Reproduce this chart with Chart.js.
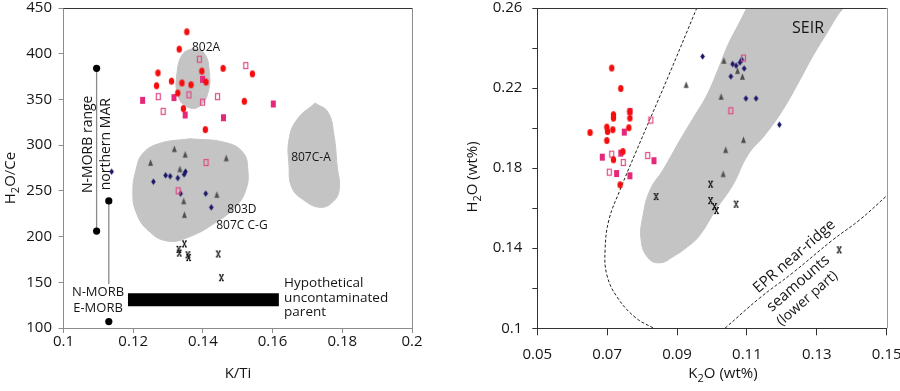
<!DOCTYPE html>
<html>
<head>
<meta charset="utf-8">
<script src="https://cdn.jsdelivr.net/npm/chart.js@4.4.1/dist/chart.umd.min.js"></script>
<style>
  html, body { margin: 0; padding: 0; background: #fff; }
  #wrap { position: relative; width: 900px; height: 391px; }
  canvas { position: absolute; top: 0; }
  #left { left: 0; }
  #right { left: 450px; }
</style>
</head>
<body>
<div id="wrap">
  <canvas id="left" width="450" height="391"></canvas>
  <canvas id="right" width="450" height="391"></canvas>
</div>
<script>
// ---- left panel: K/Ti vs H2O/Ce ----
const leftXTicks = [0.1, 0.12, 0.14, 0.16, 0.18, 0.2];
const leftXLabels = ['0.1', '0.12', '0.14', '0.16', '0.18', '0.2'];
const leftYTicks = [100, 150, 200, 250, 300, 350, 400, 450];
const leftYLabels = ['100', '150', '200', '250', '300', '350', '400', '450'];

const leftRedX = [0.1354, 0.1332, 0.1271, 0.1267, 0.1310, 0.1340, 0.1366, 0.1397, 0.1409, 0.1328, 0.1344, 0.1458, 0.1542, 0.1519, 0.1407];
const leftRedY = [424, 405, 379, 365, 370, 368, 366, 381, 369, 357, 340, 384, 378, 348, 317];
const leftPinkX = [0.1227, 0.1317, 0.1399, 0.1349, 0.1459, 0.1602];
const leftPinkY = [349, 352, 372, 333, 330, 345];
const leftOpenX = [0.1390, 0.1523, 0.1272, 0.1360, 0.1286, 0.1399, 0.1442, 0.1409, 0.1329];
const leftOpenY = [394, 387, 353, 355, 337, 347, 353, 281, 250];
const leftNavyX = [0.1138, 0.1258, 0.1293, 0.1306, 0.1328, 0.1346, 0.1350, 0.1336, 0.1408, 0.1424];
const leftNavyY = [271, 260, 267, 266, 264, 268, 271, 247, 247, 232];
const leftTriX = [0.1318, 0.1349, 0.1250, 0.1334, 0.1467, 0.1440, 0.1345, 0.1347];
const leftTriY = [296, 290, 281, 274, 286, 246, 239, 224];
const leftCrossX = [0.1347, 0.1331, 0.1332, 0.1357, 0.1359, 0.1444, 0.1453];
const leftCrossY = [192, 186, 182, 180, 177, 181, 155];

// N-MORB range (northern MAR), N-MORB / E-MORB, hypothetical parent
const nmorbRangeX = [0.1095, 0.1095];
const nmorbRangeY = [384, 206];
const morbLineX = [0.1130, 0.1130];
const morbLineY = [239, 148];
const emorbX = [0.1130];
const emorbY = [107];
const parentX = [0.1185, 0.1618];
const parentY = [131, 131];

// field outlines (closed)
const f802aX = [0.1372, 0.1403, 0.1418, 0.1415, 0.1392, 0.1360, 0.1329, 0.1326, 0.1343, 0.1372];
const f802aY = [406, 401, 382, 358, 343, 341, 353, 380, 400, 406];
const f803dX = [0.1363, 0.1463, 0.1515, 0.1529, 0.1524, 0.1495, 0.1435, 0.1363, 0.1300, 0.1242, 0.1208, 0.1199, 0.1208, 0.1228, 0.1277, 0.1363];
const f803dY = [307, 303, 292, 273, 252, 233, 215, 200, 195, 207, 227, 249, 273, 291, 302, 307];
const f807aX = [0.1722, 0.1759, 0.1776, 0.1785, 0.1791, 0.1770, 0.1736, 0.1693, 0.1656, 0.1647, 0.1647, 0.1670, 0.1722];
const f807aY = [346, 336, 311, 278, 251, 237, 232, 239, 253, 278, 306, 328, 346];

// ---- right panel: K2O vs H2O ----
const rightXTicks = [0.05, 0.07, 0.09, 0.11, 0.13, 0.15];
const rightXLabels = ['0.05', '0.07', '0.09', '0.11', '0.13', '0.15'];
const rightYTicks = [0.1, 0.12, 0.14, 0.16, 0.18, 0.2, 0.22, 0.24, 0.26];
const rightYLabels = ['0.1', '', '0.14', '', '0.18', '', '0.22', '', '0.26'];

const rightRedX = [0.0713, 0.0739, 0.0718, 0.0718, 0.0765, 0.0765, 0.0699, 0.0701, 0.0716, 0.0762, 0.0651, 0.0699, 0.0718, 0.0745, 0.0737];
const rightRedY = [0.230, 0.2198, 0.2067, 0.2050, 0.2083, 0.2050, 0.2005, 0.1983, 0.1992, 0.2002, 0.1978, 0.1938, 0.1842, 0.1883, 0.1717];
const rightPinkX = [0.0749, 0.0686, 0.0739, 0.0727, 0.0765, 0.0834];
const rightPinkY = [0.1980, 0.1855, 0.1875, 0.1773, 0.1762, 0.1837];
const rightOpenX = [0.0825, 0.0713, 0.0746, 0.0706, 0.0816, 0.0765, 0.1090, 0.1054];
const rightOpenY = [0.2040, 0.1870, 0.1828, 0.1780, 0.1863, 0.2083, 0.2350, 0.2087];
const rightNavyX = [0.0973, 0.1059, 0.1069, 0.1080, 0.1085, 0.1092, 0.1054, 0.1097, 0.1126, 0.1193];
const rightNavyY = [0.2358, 0.2320, 0.2312, 0.2328, 0.2342, 0.2298, 0.2258, 0.2148, 0.2148, 0.2017];
const rightTriX = [0.1034, 0.1073, 0.1087, 0.1026, 0.1090, 0.1039, 0.1032, 0.0926];
const rightTriY = [0.2338, 0.2287, 0.2258, 0.2158, 0.1942, 0.1892, 0.1772, 0.2217];
const rightCrossX = [0.0996, 0.0840, 0.0996, 0.1007, 0.1013, 0.1069, 0.1364];
const rightCrossY = [0.1720, 0.1658, 0.1638, 0.1608, 0.1588, 0.1620, 0.1392];

// SEIR field and dashed EPR envelopes
const seirX = [0.1109, 0.1389, 0.1361, 0.1326, 0.1286, 0.1252, 0.1203, 0.1152, 0.1103, 0.1060, 0.1011, 0.0966, 0.0937, 0.0888, 0.0851, 0.0817, 0.0797, 0.0803, 0.0823, 0.0860, 0.0909, 0.0952, 0.0986, 0.1017, 0.1046, 0.1080, 0.1109];
const seirY = [0.2635, 0.2640, 0.2567, 0.2467, 0.2352, 0.2242, 0.2092, 0.1967, 0.1867, 0.1717, 0.1592, 0.1467, 0.1417, 0.1357, 0.1327, 0.1352, 0.1442, 0.1567, 0.1692, 0.1792, 0.1942, 0.2067, 0.2167, 0.2292, 0.2417, 0.2532, 0.2635];
const eprLeftX = [0.0957, 0.0871, 0.0785, 0.0737, 0.0705, 0.0694, 0.0699, 0.0728, 0.0782, 0.0837];
const eprLeftY = [0.2602, 0.2242, 0.1892, 0.1692, 0.1542, 0.1392, 0.1267, 0.1157, 0.1052, 0.0997];
const eprRightX = [0.1037, 0.1137, 0.1231, 0.1346, 0.1423, 0.1500];
const eprRightY = [0.1000, 0.1152, 0.1277, 0.1442, 0.1542, 0.1662];

const FONT = '"Open Sans", "DejaVu Sans", sans-serif';
const zip = (xs, ys) => xs.map((x, i) => ({ x: x, y: ys[i] }));

// small marker images
function marker(draw) {
  const c = document.createElement('canvas');
  c.width = 7; c.height = 9;
  draw(c.getContext('2d'));
  return c;
}
const mkRed = marker(g => { g.fillStyle = '#f50d0d'; g.beginPath(); g.ellipse(3.5, 4.5, 2.7, 3.6, 0, 0, Math.PI * 2); g.fill(); });
const mkPink = marker(g => { g.fillStyle = '#e6287a'; g.fillRect(1, 1, 5, 7); });
const mkOpen = marker(g => { g.strokeStyle = '#e04b85'; g.lineWidth = 1.2; g.strokeRect(1.5, 1.5, 4, 6); });
const mkNavy = marker(g => {
  g.fillStyle = '#1b1868'; g.beginPath();
  g.moveTo(3.5, 1.2); g.lineTo(5.8, 4.5); g.lineTo(3.5, 7.8); g.lineTo(1.2, 4.5); g.closePath(); g.fill();
});
const mkTri = marker(g => {
  g.fillStyle = '#4e4e4e'; g.beginPath();
  g.moveTo(3.5, 1.2); g.lineTo(6, 7.8); g.lineTo(1, 7.8); g.closePath(); g.fill();
});
const mkCross = marker(g => {
  g.strokeStyle = '#111'; g.lineWidth = 1.1; g.beginPath();
  g.moveTo(1.8, 1.5); g.lineTo(5.2, 7.5); g.moveTo(5.2, 1.5); g.lineTo(1.8, 7.5);
  g.moveTo(1, 1.5); g.lineTo(3, 1.5); g.moveTo(4, 1.5); g.lineTo(6, 1.5);
  g.moveTo(1, 7.5); g.lineTo(3, 7.5); g.moveTo(4, 7.5); g.lineTo(6, 7.5);
  g.stroke();
});

function pts(xs, ys, img) {
  return { type: 'scatter', data: zip(xs, ys), pointStyle: img, pointRadius: 4, order: 0 };
}
function field(xs, ys) {
  return {
    type: 'line', data: zip(xs, ys), fill: 'shape', tension: 0.45,
    backgroundColor: '#c4c4c4', borderColor: '#c4c4c4', borderWidth: 1, pointRadius: 0, order: 10
  };
}
function dashed(xs, ys) {
  return {
    type: 'line', data: zip(xs, ys), fill: false, tension: 0.4, borderDash: [3, 2],
    borderColor: '#222', borderWidth: 1, pointRadius: 0, order: 5
  };
}

// text helper: parts = [[text, isSub], ...]
function drawRich(ctx, parts, x, y, size, align) {
  const main = size + 'px ' + FONT;
  const sub = Math.round(size * 0.7) + 'px ' + FONT;
  let w = 0;
  parts.forEach(p => { ctx.font = p[1] ? sub : main; w += ctx.measureText(p[0]).width; });
  let cx = align === 'center' ? x - w / 2 : (align === 'right' ? x - w : x);
  ctx.textAlign = 'left';
  parts.forEach(p => {
    ctx.font = p[1] ? sub : main;
    ctx.fillText(p[0], cx, p[1] ? y + size * 0.32 : y);
    cx += ctx.measureText(p[0]).width;
  });
}

function overlay(frame, texts) {
  return {
    id: 'overlay',
    afterDraw(chart) {
      const { ctx, chartArea: a, scales } = chart;
      ctx.save();
      ctx.lineWidth = 1;
      ctx.strokeStyle = frame.top;
      ctx.beginPath(); ctx.moveTo(a.left, Math.round(a.top) + 0.5); ctx.lineTo(a.right, Math.round(a.top) + 0.5); ctx.stroke();
      ctx.strokeStyle = frame.right;
      ctx.beginPath(); ctx.moveTo(Math.round(a.right) + 0.5, a.top); ctx.lineTo(Math.round(a.right) + 0.5, a.bottom); ctx.stroke();
      ctx.fillStyle = '#151515';
      ctx.textBaseline = 'middle';
      texts.forEach(t => {
        const px = t.pix ? t.x : scales.x.getPixelForValue(t.x);
        const py = t.pix ? t.y : scales.y.getPixelForValue(t.y);
        ctx.save();
        ctx.translate(px, py);
        if (t.rot) ctx.rotate(t.rot * Math.PI / 180);
        drawRich(ctx, t.parts, 0, 0, t.size, t.align || 'center');
        ctx.restore();
      });
      ctx.restore();
    }
  };
}

function axis(min, max, ticks, labels, o) {
  return {
    type: 'linear', min: min, max: max,
    afterBuildTicks: s => { s.ticks = ticks.map(v => ({ value: v })); },
    afterFit: s => {
      if (o.width) { s.width = o.width; s.paddingTop = 0; s.paddingBottom = 0; }
      if (o.height) { s.height = o.height; s.paddingLeft = 0; s.paddingRight = 0; }
    },
    ticks: {
      callback: (v, i) => labels[i], autoSkip: false, maxRotation: 0, minRotation: 0,
      padding: o.pad, color: '#151515', font: { family: FONT, size: 15 }
    },
    grid: { drawOnChartArea: false, drawTicks: true, tickLength: o.tl, color: o.color, lineWidth: 1 },
    border: { display: true, color: o.color, width: 1 }
  };
}

const common = {
  responsive: false, animation: false, events: [], devicePixelRatio: 1,
  plugins: { legend: { display: false }, tooltip: { enabled: false } }
};

// left chart
new Chart(document.getElementById('left'), {
  type: 'scatter',
  data: {
    datasets: [
      pts(leftRedX, leftRedY, mkRed),
      pts(leftPinkX, leftPinkY, mkPink),
      pts(leftOpenX, leftOpenY, mkOpen),
      pts(leftNavyX, leftNavyY, mkNavy),
      pts(leftTriX, leftTriY, mkTri),
      pts(leftCrossX, leftCrossY, mkCross),
      { type: 'line', data: zip(nmorbRangeX, nmorbRangeY), borderColor: '#8a8a8a', borderWidth: 1.3,
        pointRadius: 3.6, pointBackgroundColor: '#000', pointBorderWidth: 0, order: 1 },
      { type: 'line', data: zip(morbLineX, morbLineY), borderColor: '#8a8a8a', borderWidth: 1.3,
        pointRadius: [3.6, 0], pointBackgroundColor: '#000', pointBorderWidth: 0, order: 1 },
      { type: 'scatter', data: zip(emorbX, emorbY), pointRadius: 3.6, pointBackgroundColor: '#000',
        pointBorderWidth: 0, order: 1 },
      { type: 'line', data: zip(parentX, parentY), borderColor: '#000', borderWidth: 13,
        borderCapStyle: 'butt', pointRadius: 0, order: 1 },
      field(f802aX, f802aY),
      field(f803dX, f803dY),
      field(f807aX, f807aY)
    ]
  },
  options: Object.assign({}, common, {
    layout: { padding: { top: 8, right: 38, left: 0, bottom: 0 } },
    scales: {
      x: axis(0.1, 0.2, leftXTicks, leftXLabels, { height: 63, pad: 0, tl: 5, color: '#8c8c8c' }),
      y: axis(100, 450, leftYTicks, leftYLabels, { width: 63.5, pad: 6.5, tl: 5, color: '#8c8c8c' })
    }
  }),
  plugins: [overlay({ top: '#333', right: '#8c8c8c' }, [
    { parts: [['802A']], x: 0.1409, y: 407, size: 12 },
    { parts: [['807C-A']], x: 0.1710, y: 286, size: 12 },
    { parts: [['803D']], x: 0.1512, y: 230, size: 12 },
    { parts: [['807C C-G']], x: 0.1512, y: 212, size: 12 },
    { parts: [['Hypothetical']], x: 0.1633, y: 149, size: 13.5, align: 'left' },
    { parts: [['uncontaminated']], x: 0.1633, y: 133, size: 13.5, align: 'left' },
    { parts: [['parent']], x: 0.1633, y: 117, size: 13.5, align: 'left' },
    { parts: [['N-MORB range']], x: 0.1070, y: 301, size: 14, rot: -90 },
    { parts: [['northern MAR']], x: 0.1122, y: 301, size: 14, rot: -90 },
    { parts: [['N-MORB']], x: 0.1099, y: 139, size: 13 },
    { parts: [['E-MORB']], x: 0.1099, y: 122, size: 13 },
    { parts: [['K/Ti']], x: 238, y: 374, size: 15, pix: true },
    { parts: [['H'], ['2', true], ['O/Ce']], x: 11, y: 178, size: 15, rot: -90, pix: true }
  ])]
});

// right chart
new Chart(document.getElementById('right'), {
  type: 'scatter',
  data: {
    datasets: [
      pts(rightRedX, rightRedY, mkRed),
      pts(rightPinkX, rightPinkY, mkPink),
      pts(rightOpenX, rightOpenY, mkOpen),
      pts(rightNavyX, rightNavyY, mkNavy),
      pts(rightTriX, rightTriY, mkTri),
      pts(rightCrossX, rightCrossY, mkCross),
      dashed(eprLeftX, eprLeftY),
      dashed(eprRightX, eprRightY),
      field(seirX, seirY)
    ]
  },
  options: Object.assign({}, common, {
    layout: { padding: { top: 8, right: 13.3, left: 0, bottom: 0 } },
    scales: {
      x: axis(0.05, 0.15, rightXTicks, rightXLabels, { height: 62.7, pad: 10, tl: 7, color: '#333' }),
      y: axis(0.1, 0.26, rightYTicks, rightYLabels, { width: 87.3, pad: 10, tl: 5, color: '#333' })
    }
  }),
  plugins: [overlay({ top: '#333', right: '#999' }, [
    { parts: [['SEIR']], x: 0.1275, y: 0.2497, size: 16 },
    { parts: [['EPR near-ridge']], x: 0.1236, y: 0.1359, size: 15, rot: -41 },
    { parts: [['seamounts']], x: 0.1247, y: 0.1224, size: 15, rot: -41 },
    { parts: [['(lower part)']], x: 0.1273, y: 0.1149, size: 14, rot: -41 },
    { parts: [['K'], ['2', true], ['O (wt%)']], x: 273, y: 374, size: 15, pix: true },
    { parts: [['H'], ['2', true], ['O (wt%)']], x: 23, y: 177, size: 15, rot: -90, pix: true }
  ])]
});
</script>
</body>
</html>
